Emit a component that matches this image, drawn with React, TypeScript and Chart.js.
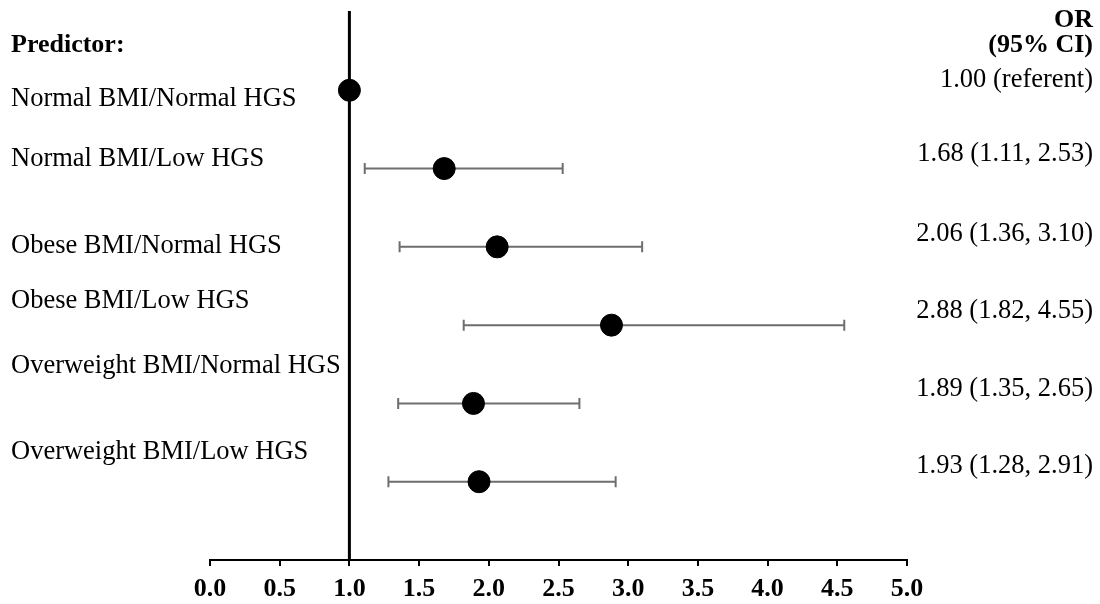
import React, { useEffect, useRef } from "react";
import { Chart, registerables } from "chart.js";

Chart.register(...registerables);

const predictors = [
  "Normal BMI/Normal HGS",
  "Normal BMI/Low HGS",
  "Obese BMI/Normal HGS",
  "Obese BMI/Low HGS",
  "Overweight BMI/Normal HGS",
  "Overweight BMI/Low HGS",
];
const oddsRatios = [1.0, 1.68, 2.06, 2.88, 1.89, 1.93];
const ciLower = [null, 1.11, 1.36, 1.82, 1.35, 1.28];
const ciUpper = [null, 2.53, 3.1, 4.55, 2.65, 2.91];
const orLabels = [
  "1.00 (referent)",
  "1.68 (1.11, 2.53)",
  "2.06 (1.36, 3.10)",
  "2.88 (1.82, 4.55)",
  "1.89 (1.35, 2.65)",
  "1.93 (1.28, 2.91)",
];
const xTicks = [0, 0.5, 1, 1.5, 2, 2.5, 3, 3.5, 4, 4.5, 5];

// text row placement (in y-scale units)
const leftLabelRows = [1.107, 1.884, 2.99, 3.69, 4.52, 5.625];
const rightLabelRows = [0.865, 1.82, 2.84, 3.82, 4.81, 5.8];

const SERIF = '"Liberation Serif", "Times New Roman", serif';

const forestPlugin = {
  id: "forest",
  beforeDatasetsDraw(chart: any) {
    const { ctx, chartArea, scales } = chart;
    const xs = scales.x;
    const ys = scales.y;
    ctx.save();
    // reference line at OR = 1
    const x1 = xs.getPixelForValue(1);
    ctx.strokeStyle = "#000";
    ctx.lineWidth = 3;
    ctx.beginPath();
    ctx.moveTo(x1, chartArea.top - 1);
    ctx.lineTo(x1, chartArea.bottom);
    ctx.stroke();
    // error bars
    ctx.strokeStyle = "#6e6e6e";
    ctx.lineWidth = 2;
    for (let i = 0; i < oddsRatios.length; i++) {
      const lo = ciLower[i];
      const hi = ciUpper[i];
      if (lo == null || hi == null) continue;
      const y = ys.getPixelForValue(i + 1);
      const xl = xs.getPixelForValue(lo);
      const xh = xs.getPixelForValue(hi);
      ctx.beginPath();
      ctx.moveTo(xl, y);
      ctx.lineTo(xh, y);
      ctx.moveTo(xl, y - 5.5);
      ctx.lineTo(xl, y + 5.5);
      ctx.moveTo(xh, y - 5.5);
      ctx.lineTo(xh, y + 5.5);
      ctx.stroke();
    }
    ctx.restore();
  },
  afterDraw(chart: any) {
    const { ctx, scales } = chart;
    const ys = scales.y;
    ctx.save();
    ctx.fillStyle = "#000";
    ctx.textBaseline = "middle";
    // left labels
    ctx.textAlign = "left";
    ctx.font = `bold 26px ${SERIF}`;
    ctx.fillText("Predictor:", 11, ys.getPixelForValue(0.42));
    ctx.font = `26.5px ${SERIF}`;
    predictors.forEach((p, i) => {
      ctx.fillText(p, 11, ys.getPixelForValue(leftLabelRows[i]));
    });
    // right labels
    ctx.textAlign = "right";
    const rx = 1093;
    ctx.font = `bold 26px ${SERIF}`;
    ctx.fillText("OR", rx, ys.getPixelForValue(0.1));
    ctx.fillText("(95% CI)", rx, ys.getPixelForValue(0.42));
    ctx.font = `26.5px ${SERIF}`;
    orLabels.forEach((t, i) => {
      ctx.fillText(t, rx, ys.getPixelForValue(rightLabelRows[i]));
    });
    ctx.restore();
  },
};

export default function App() {
  const ref = useRef<HTMLCanvasElement>(null);
  useEffect(() => {
    if (!ref.current) return;
    const chart = new Chart(ref.current, {
      type: "scatter",
      data: {
        datasets: [
          {
            data: oddsRatios.map((v, i) => ({ x: v, y: i + 1 })),
            backgroundColor: "#000",
            borderColor: "#000",
            pointRadius: 11,
            pointHoverRadius: 11,
          },
        ],
      },
      options: {
        animation: false,
        responsive: true,
        maintainAspectRatio: false,
        layout: { padding: { left: 210, right: 193, top: 10, bottom: 0 } },
        plugins: {
          legend: { display: false },
          tooltip: { enabled: false },
        },
        scales: {
          x: {
            type: "linear",
            min: 0,
            max: 5,
            afterBuildTicks: (scale: any) => {
              scale.ticks = xTicks.map((v) => ({ value: v }));
            },
            afterFit: (scale: any) => {
              scale.height = 44;
            },
            ticks: {
              color: "#000",
              padding: 8,
              font: { family: SERIF, size: 26, weight: "bold" },
              callback: (v: any) => Number(v).toFixed(1),
              maxRotation: 0,
              autoSkip: false,
            },
            grid: {
              drawOnChartArea: false,
              drawTicks: true,
              tickLength: 6,
              color: "#000",
              lineWidth: 2,
            },
            border: { display: true, color: "#000", width: 2 },
          },
          y: {
            type: "linear",
            display: false,
            reverse: true,
            min: 0,
            max: 7,
          },
        },
      },
      plugins: [forestPlugin],
    });
    return () => chart.destroy();
  }, []);
  return (
    <div style={{ position: "fixed", left: 0, top: 0, width: 1100, height: 604, background: "#fff" }}>
      <canvas ref={ref} />
    </div>
  );
}
